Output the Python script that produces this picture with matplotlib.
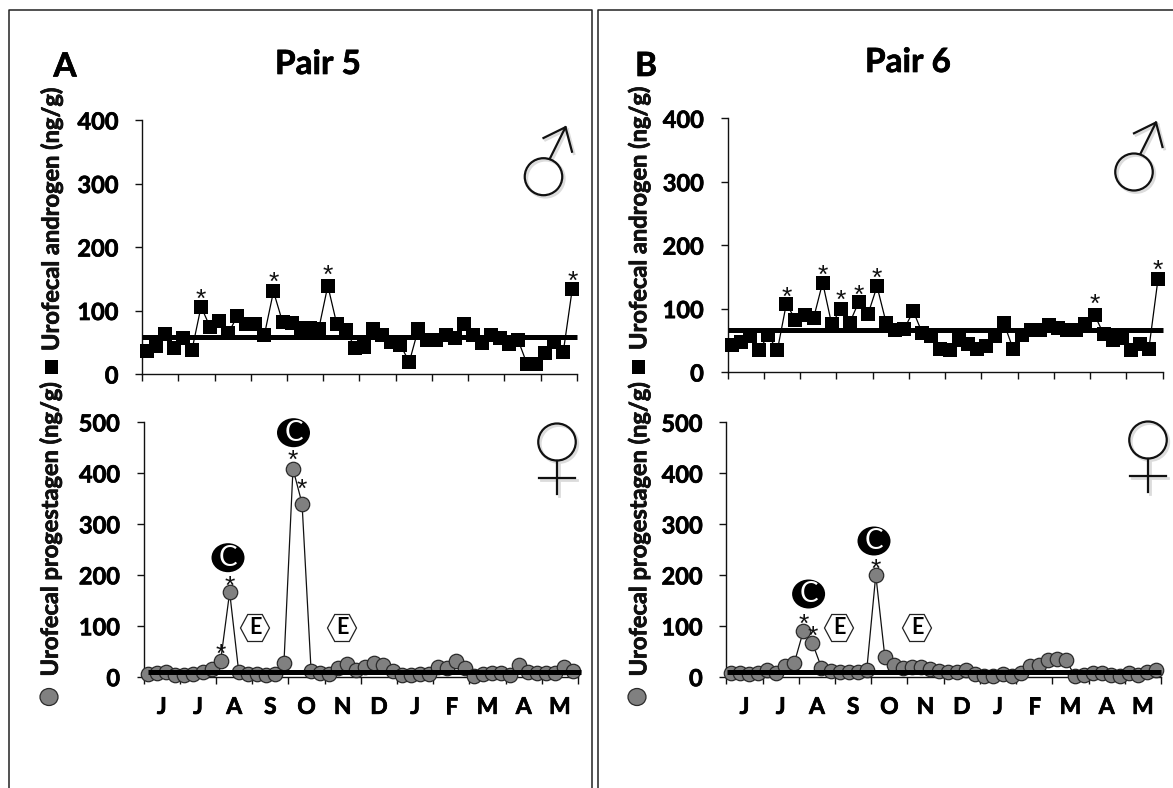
import matplotlib
matplotlib.use("Agg")
import matplotlib.pyplot as plt
import matplotlib.patheffects as pe
from matplotlib.patches import Ellipse, Polygon, Rectangle

plt.rcParams['font.family'] = ['Lato', 'DejaVu Sans']

months = ['J', 'J', 'A', 'S', 'O', 'N', 'D', 'J', 'F', 'M', 'A', 'M']

androgen_5 = [36, 44, 63, 41, 57, 38, 106, 74, 84, 64, 91, 78, 79, 62, 130, 82,
              80, 72, 72, 71, 139, 78, 70, 41, 42, 71, 62, 50, 46, 19, 71, 54,
              54, 62, 57, 79, 62, 49, 62, 57, 48, 54, 16, 16, 33, 51, 34, 134]
progestagen_5 = [5, 8, 10, 3, 3, 6, 9, 16, 31, 166, 10, 6, 5, 4, 5, 27,
                 408, 340, 12, 8, 6, 18, 25, 13, 20, 27, 23, 12, 3, 4, 6, 5,
                 20, 18, 31, 18, 1, 5, 7, 7, 3, 23, 10, 7, 7, 7, 19, 11]
androgen_6 = [42, 47, 57, 35, 58, 34, 108, 82, 90, 85, 141, 75, 100, 78, 111, 91,
              135, 78, 66, 68, 96, 61, 56, 36, 35, 51, 44, 37, 41, 56, 77, 37,
              58, 66, 66, 74, 69, 67, 66, 75, 90, 60, 50, 53, 34, 44, 37, 146]
progestagen_6 = [8, 8, 5, 8, 14, 8, 21, 27, 90, 66, 18, 12, 10, 10, 9, 13,
                 200, 39, 23, 18, 20, 20, 16, 12, 10, 10, 13, 5, 2, 2, 5, 2,
                 8, 21, 23, 33, 34, 33, 1, 3, 8, 7, 3, 1, 8, 4, 9, 13]

mean_a5, mean_p5, mean_a6, mean_p6 = 58, 10, 67, 9

stars_a5 = [6, 14, 20, 47]
stars_p5 = [8, 9, 16, 17]
stars_a6 = [6, 10, 12, 14, 16, 40, 47]
stars_p6 = [8, 9, 16]

W, H = 1173, 788
fig = plt.figure(figsize=(W / 100, H / 100), dpi=100, facecolor='white')
heavy = [pe.withStroke(linewidth=0.5, foreground='black')]

# full-figure overlay in pixel coordinates for frames, symbols and labels
ov = fig.add_axes([0, 0, 1, 1], zorder=5)
ov.set_xlim(0, W)
ov.set_ylim(H, 0)
ov.axis('off')
ov.patch.set_alpha(0)


def data_axes(l, r, t, b, ymax, yticks, series, mean, stars, star_px, marker, mean_x, bottom):
    ax = fig.add_axes([l / W, 1 - b / H, (r - l) / W, (b - t) / H], zorder=3)
    ax.patch.set_alpha(0)
    ax.set_xlim(0, len(series))
    ax.set_ylim(0, ymax)
    for s in ('top', 'right'):
        ax.spines[s].set_visible(False)
    for s in ('left', 'bottom'):
        ax.spines[s].set_linewidth(1.0)
        ax.spines[s].set_color('#111111')
    xs = [i + 0.5 for i in range(len(series))]
    if marker == 's':
        ax.plot(xs, series, '-', color='black', lw=0.9, marker='s', ms=9.8,
                mfc='black', mec='black', mew=0, clip_on=False, zorder=4)
    else:
        ax.plot(xs, series, '-', color='#111111', lw=0.9, marker='o', ms=10.4,
                mfc='#808080', mec='#2a2a2a', mew=0.9, clip_on=False, zorder=4)
    ax.plot(mean_x, [mean, mean], color='black', lw=3.6, solid_capstyle='butt',
            clip_on=False, zorder=5)
    for i, dy in zip(stars, star_px):
        # the glyph sits high in its line box, hence the 6 px taken off
        ax.annotate('*', (xs[i], series[i]), xytext=(0, (dy - 6) * 0.72), textcoords='offset points',
                    ha='center', va='center', fontsize=19, color='#111111',
                    family=['Liberation Sans'], zorder=6)
    ax.set_yticks(yticks)
    ax.set_yticklabels([str(v) for v in yticks], fontsize=17, fontweight='bold', path_effects=heavy)
    ax.set_xticks(range(0, len(series) + 1, 4))
    ax.set_xticklabels([])
    ax.tick_params(axis='both', which='major', length=5, width=1.0, color='#111111')
    ax.tick_params(axis='y', pad=12)
    if bottom:
        ax.set_xticks([m * 4 + 2 for m in range(12)], minor=True)
        ax.set_xticklabels(months, minor=True, fontsize=16.5, fontweight='bold', path_effects=heavy)
        ax.tick_params(axis='x', which='minor', length=0, pad=14.5)
    return ax


data_axes(142.2, 576.8, 120, 374, 400, [0, 100, 200, 300, 400], androgen_5, mean_a5,
          stars_a5, [12.7, 14.7, 15.7, 12.7], 's', [0, 48], False)
data_axes(143.7, 578, 422, 676.7, 500, [0, 100, 200, 300, 400, 500], progestagen_5, mean_p5,
          stars_p5, [12, 11, 14, 20], 'o', [0.5, 48.3], True)
data_axes(727.5, 1162.5, 118.3, 372, 400, [0, 100, 200, 300, 400], androgen_6, mean_a6,
          stars_a6, [12, 13, 13.7, 11.7, 13.3, 16.3, 15], 's', [0, 48], False)
data_axes(726.4, 1161, 422.3, 676.7, 500, [0, 100, 200, 300, 400, 500], progestagen_6, mean_p6,
          stars_p6, [12, 12.7, 11], 'o', [0.1, 48], True)

# panel frames (open at the bottom)
frame = dict(color='#222222', lw=1.1, solid_capstyle='butt')
ov.plot([8.5, 8.5, 591.7, 591.7], [H, 9.5, 9.5, H], **frame)
ov.plot([598, 598, W], [H, 9.5, 9.5], **frame)

# headings
for x, y, s, fs in [(65, 67, 'A', 24), (646, 66.5, 'B', 24),
                    (318, 64.5, 'Pair 5', 24), (908, 62.5, 'Pair 6', 24)]:
    ov.text(x, y, s, ha='center', va='center', fontsize=fs, fontweight='bold', color='black',
            path_effects=heavy)

# rotated axis labels
for x, y, s in [(51, 219, 'Urofecal androgen (ng/g)'), (50, 529, 'Urofecal progestagen (ng/g)'),
                (638.5, 218, 'Urofecal androgen (ng/g)'), (638.5, 529, 'Urofecal progestagen (ng/g)')]:
    ov.text(x, y, s, rotation=90, ha='center', va='center', fontsize=17,
            fontweight='bold', color='#111111', path_effects=heavy)

# legend keys beside the labels
for x, y in [(51, 367), (638, 367)]:
    ov.add_patch(Rectangle((x - 6.5, y - 7), 13, 14, fc='black', ec='none'))
for x, y in [(49, 697), (637, 697)]:
    ov.add_patch(Ellipse((x, y), 18, 17, fc='#808080', ec='#2a2a2a', lw=0.9))

# C badges
for x, y in [(293.5, 432.7), (228, 557.7), (808.6, 594), (874, 541)]:
    ov.add_patch(Ellipse((x, y), 33, 29, fc='black', ec='none', zorder=7))
    ov.text(x, y, 'C', ha='center', va='center', fontsize=20, color='white', zorder=8)

# E hexagons
for x, y in [(255, 628), (342, 628), (839, 628), (917, 628)]:
    hx, hy = 14.5, 13.5
    ov.add_patch(Polygon([(x - hx, y), (x - hx / 2, y - hy), (x + hx / 2, y - hy),
                          (x + hx, y), (x + hx / 2, y + hy), (x - hx / 2, y + hy)],
                         closed=True, fc='white', ec='#222222', lw=0.9, zorder=7))
    ov.text(x, y, 'E', ha='center', va='center', fontsize=15.5, fontweight='bold',
            color='black', zorder=8)


def symbol(cx, cy, segs):
    for dx, col, lw, z in [(2, '#dcdcdc', 2.0, 6), (0, '#111111', 1.6, 7)]:
        ov.add_patch(Ellipse((cx + dx, cy + dx), 37.5, 37, fc='none', ec=col, lw=lw, zorder=z))
        for seg in segs:
            ov.plot([p[0] + dx for p in seg], [p[1] + dx for p in seg], color=col, lw=lw, zorder=z)


def male(cx, cy):
    symbol(cx, cy, [[(cx + 6.5, cy - 18.3), (cx + 22, cy - 49.5)],
                    [(cx, cy - 38.7), (cx + 22, cy - 49.5), (cx + 28.5, cy - 25)]])


def female(cx, cy):
    symbol(cx, cy, [[(cx, cy + 18.5), (cx, cy + 52)],
                    [(cx - 18, cy + 35.5), (cx + 18, cy + 35.5)]])


male(543.5, 176.7)
male(1134, 172)
female(557, 442)
female(1148, 440)

ov.set_xlim(0, W)
ov.set_ylim(H, 0)
fig.savefig('out.png', dpi=100, facecolor='white')
